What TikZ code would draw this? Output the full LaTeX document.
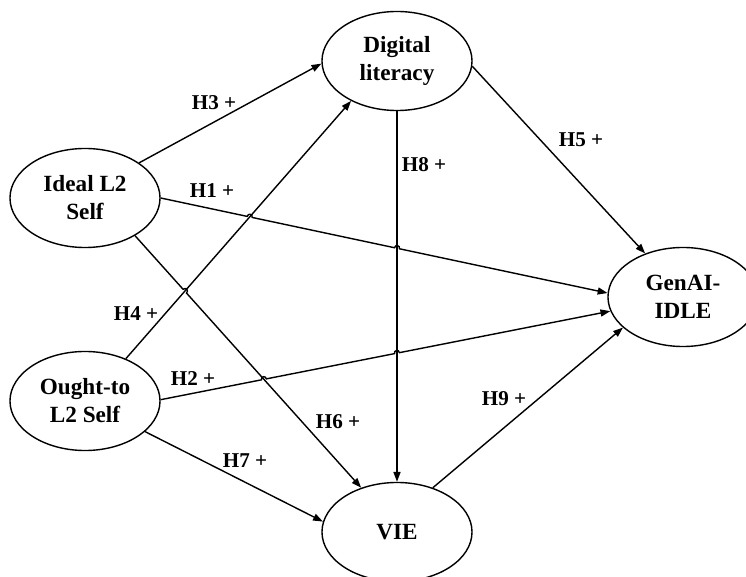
\documentclass[tikz,border=0pt]{standalone}
\usepackage{fontspec}
\setmainfont{Liberation Serif}
\usetikzlibrary{positioning, arrows.meta, calc, intersections, shapes.geometric}

\begin{document}
\begin{tikzpicture}[x=0.025cm, y=-0.025cm,
      every node/.style={font=\fontsize{16.5}{20}\selectfont\bfseries, align=center},
      construct/.style={draw, ellipse, line width=1pt, minimum width=3.75cm, minimum height=2.475cm, inner sep=0pt},
      link/.style={line width=1pt, -{Triangle[length=7pt, width=5pt]}},
      hop/.style={bend left=90, looseness=1.8},
      hyp/.style={font=\fontsize{15}{17}\selectfont\bfseries}]
    \useasboundingbox (0,0) rectangle (746,577);
    % constructs
    \node[construct] (digital) at (397,61) {Digital\\literacy};
    \node[construct] (ideal) at (85,198) {Ideal L2\\Self};
    \node[construct] (ought) at (85,401) {Ought-to\\L2 Self};
    \node[construct] (genai) at (683,297) {GenAI-\\IDLE};
    \node[construct] (vie) at (397,532) {VIE};
    % lines that get jumped over
    \path[name path=h4line] (ought.46) -- (digital.221);
    \path[name path=h8line] (digital.south) -- (vie.north);
    \path[name path=h6line] (ideal.323) -- (vie.129);
    \path[name path=h1line] (ideal.0) -- (genai.177);
    \path[name path=h2line] (ought.1) -- (genai.191);
    \path[name intersections={of=h1line and h4line, by=j14}];
    \path[name intersections={of=h1line and h8line, by=j18}];
    \path[name intersections={of=h6line and h4line, by=j64}];
    \path[name intersections={of=h2line and h6line, by=j26}];
    \path[name intersections={of=h2line and h8line, by=j28}];
    % paths
    \draw[link] (ideal.33) -- (digital.182);
    \draw[link] (ought.46) -- (digital.221);
    \draw[link] (digital.south) -- (vie.north);
    \draw[link] (digital.356) -- (genai.131);
    \draw[link] (ought.333) -- (vie.172);
    \draw[link] (vie.51) -- (genai.207);
    \draw[link] (ideal.0) -- ($(j14)!1.8pt!(ideal.0)$) to[hop] ($(j14)!1.8pt!(genai.177)$)
      -- ($(j18)!1.8pt!(ideal.0)$) to[hop] ($(j18)!1.8pt!(genai.177)$) -- (genai.177);
    \draw[link] (ideal.323) -- ($(j64)!1.8pt!(ideal.323)$) to[hop] ($(j64)!1.8pt!(vie.129)$) -- (vie.129);
    \draw[link] (ought.1) -- ($(j26)!1.8pt!(ought.1)$) to[hop] ($(j26)!1.8pt!(genai.191)$)
      -- ($(j28)!1.8pt!(ought.1)$) to[hop] ($(j28)!1.8pt!(genai.191)$) -- (genai.191);
    % hypothesis labels
    \node[hyp] (lab3) at (214,103) {H3 +};
    \node[hyp] (lab1) at (212,191) {H1 +};
    \node[hyp] (lab4) at (136,314) {H4 +};
    \node[hyp] (lab2) at (193,379) {H2 +};
    \node[hyp] (lab8) at (424,165) {H8 +};
    \node[hyp] (lab5) at (581,140) {H5 +};
    \node[hyp] (lab9) at (504,399) {H9 +};
    \node[hyp] (lab6) at (338,422) {H6 +};
    \node[hyp] (lab7) at (245,461) {H7 +};
  \end{tikzpicture}
\end{document}
